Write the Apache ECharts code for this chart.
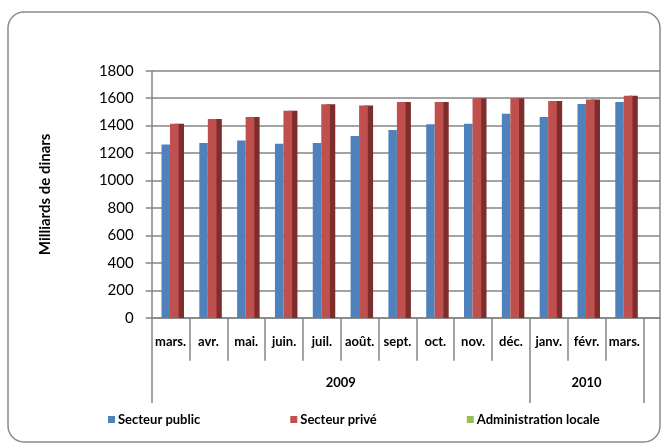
<!DOCTYPE html>
<html>
<head>
<meta charset="utf-8">
<script src="https://cdn.jsdelivr.net/npm/echarts@6/dist/echarts.min.js"></script>
<style>
  html, body { margin: 0; padding: 0; background: #ffffff; }
  #chart { width: 667px; height: 448px; }
</style>
</head>
<body>
<div id="chart"></div>
<script>
// categories (mois) et regroupement par année
const months = ['mars.', 'avr.', 'mai.', 'juin.', 'juil.', 'août.', 'sept.', 'oct.', 'nov.', 'déc.', 'janv.', 'févr.', 'mars.'];
const years = ['2009', '2010'];
const yearSpans = [10, 3];

// séries en milliards de dinars
const secteurPublic = [1262, 1273, 1292, 1268, 1273, 1324, 1368, 1411, 1413, 1486, 1463, 1557, 1572];
const secteurPrive = [1413, 1449, 1463, 1508, 1556, 1547, 1573, 1573, 1600, 1599, 1580, 1590, 1617];
const adminLocale = [0, 0, 0, 0, 0, 0, 0, 0, 0, 0, 0, 0, 0];

const yTicks = { min: 0, max: 1800, interval: 200 };

// positions des séparateurs et des libellés d'année
const yearBounds = [0];
yearSpans.forEach(s => yearBounds.push(yearBounds[yearBounds.length - 1] + s));
const yearCenters = yearSpans.map((s, i) => yearBounds[i] + s / 2);

const font = 'Lato';
const gray = '#858585';

var chart = echarts.init(document.getElementById('chart'));

chart.setOption({
  animation: false,
  textStyle: { fontFamily: font },
  graphic: [{
    type: 'rect',
    shape: { x: 8, y: 12, width: 652, height: 430, r: 16 },
    style: { fill: 'none', stroke: '#8a8a8a', lineWidth: 1.5 },
    silent: true
  }],
  grid: [
    { left: 151.7, right: 23.7, top: 70.7, bottom: 130 },
    { left: 151.7, right: 7, top: 70.7, bottom: 130 }
  ],
  legend: {
    data: ['Secteur public', 'Secteur privé', 'Administration locale'],
    left: 103,
    top: 408,
    icon: 'rect',
    itemWidth: 7,
    itemHeight: 7,
    itemGap: 90,
    itemStyle: { shadowColor: 'transparent', shadowOffsetX: 0 },
    textStyle: { fontFamily: font, fontWeight: 'bold', fontSize: 13, color: '#000', padding: [0, 0, 0, -2] }
  },
  xAxis: [
    {
      type: 'category',
      gridIndex: 0,
      data: months,
      axisLine: { show: false },
      axisTick: { show: true, length: 42.7, interval: 0, lineStyle: { color: gray, width: 1.5 } },
      axisLabel: { interval: 0, margin: 17, fontFamily: font, fontWeight: 'bold', fontSize: 13, color: '#000' }
    },
    {
      type: 'value',
      gridIndex: 0,
      position: 'bottom',
      min: 0,
      max: months.length,
      axisLine: { show: false },
      splitLine: { show: false },
      axisTick: { show: true, length: 85, customValues: yearBounds, lineStyle: { color: gray, width: 1.5 } },
      axisLabel: {
        margin: 58,
        customValues: yearCenters,
        fontFamily: font, fontWeight: 'bold', fontSize: 13, color: '#000',
        formatter: v => years[yearCenters.indexOf(v)]
      }
    },
    {
      type: 'value',
      gridIndex: 1,
      min: 0,
      max: 1,
      axisLine: { show: true, lineStyle: { color: gray, width: 1.5 } },
      axisTick: { show: false },
      axisLabel: { show: false },
      splitLine: { show: false }
    }
  ],
  yAxis: [
    {
      type: 'value',
      gridIndex: 0,
      min: yTicks.min, max: yTicks.max, interval: yTicks.interval,
      axisLine: { show: false },
      axisTick: { show: false },
      axisLabel: { show: false },
      splitLine: { show: false }
    },
    {
      type: 'value',
      gridIndex: 1,
      min: yTicks.min, max: yTicks.max, interval: yTicks.interval,
      name: 'Milliards de dinars',
      nameLocation: 'middle',
      nameGap: 99,
      nameTextStyle: { fontFamily: font, fontWeight: 'bold', fontSize: 15, color: '#000' },
      axisLine: { show: true, lineStyle: { color: gray, width: 1.5 } },
      axisTick: { show: true, length: 6, lineStyle: { color: gray, width: 1.5 } },
      axisLabel: { margin: 18, fontFamily: font, fontSize: 15, color: '#000', formatter: v => String(v) },
      splitLine: { show: true, lineStyle: { color: gray, width: 1.7 } }
    }
  ],
  series: [
    {
      name: 'Secteur public',
      type: 'bar',
      xAxisIndex: 0, yAxisIndex: 0,
      data: secteurPublic,
      barWidth: 8.5,
      barGap: 0,
      itemStyle: { color: '#4F81BD' }
    },
    {
      name: 'Secteur privé',
      type: 'bar',
      xAxisIndex: 0, yAxisIndex: 0,
      data: secteurPrive,
      barWidth: 8.7,
      barGap: 0,
      itemStyle: { color: '#C0504D', shadowColor: '#7D2E2C', shadowOffsetX: 5.3, shadowBlur: 0 }
    },
    {
      name: 'Administration locale',
      type: 'bar',
      xAxisIndex: 0, yAxisIndex: 0,
      data: adminLocale,
      barWidth: 0.6,
      barGap: 0,
      itemStyle: { color: '#9BBB59' }
    }
  ]
});
</script>
</body>
</html>
